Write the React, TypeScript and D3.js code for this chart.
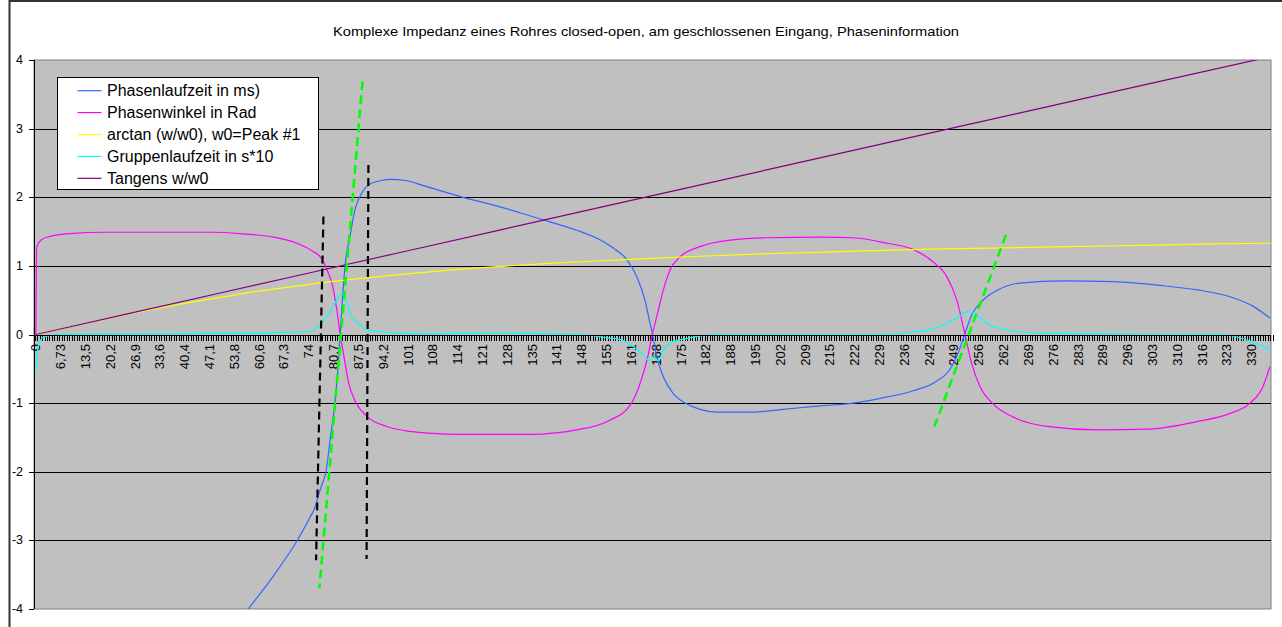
import React from 'react';
import * as d3 from 'd3';

const W = 1282;
const H = 627;

const chartTitle =
  'Komplexe Impedanz eines Rohres closed-open, am geschlossenen Eingang, Phaseninformation';

const xTickLabels = [
  '0', '6,73', '13,5', '20,2', '26,9', '33,6', '40,4', '47,1', '53,8', '60,6',
  '67,3', '74', '80,7', '87,5', '94,2', '101', '108', '114', '121', '128',
  '135', '141', '148', '155', '161', '168', '175', '182', '188', '195',
  '202', '209', '215', '222', '229', '236', '242', '249', '256', '262',
  '269', '276', '283', '289', '296', '303', '310', '316', '323', '330',
];
const labelStep = 6.73;
const categoryStep = 0.673;
const categoryCount = 499;
const yTicks = [-4, -3, -2, -1, 0, 1, 2, 3, 4];

// [frequency, value]
const phasenlaufzeit: [number, number][] = [
  [57.6, -4.0], [64.4, -3.52], [70.8, -3.01], [74.4, -2.66], [75.7, -2.52], [76.6, -2.35],
  [77.5, -2.2], [78.7, -2.0], [79.8, -1.54], [81.1, -1.0], [81.9, -0.52], [82.5, -0.03],
  [83.9, 1.02], [85.2, 1.43], [86.6, 1.83], [87.9, 2.01], [90.2, 2.18], [93.4, 2.24],
  [96.1, 2.26], [100.6, 2.24], [105.1, 2.17], [115.1, 2.01], [125.9, 1.86], [137.6, 1.67],
  [146.7, 1.52], [153.0, 1.38], [156.6, 1.26], [160.3, 1.09], [163.0, 0.84], [165.2, 0.5],
  [166.6, 0.16], [167.3, 0.0], [168.4, -0.32], [170.2, -0.62], [172.9, -0.86], [176.5, -1.01],
  [180.1, -1.09], [184.7, -1.13], [194.6, -1.13], [202.7, -1.09], [212.7, -1.04], [221.7, -1.0],
  [229.0, -0.93], [238.0, -0.82], [244.3, -0.68], [247.9, -0.51], [250.5, -0.22], [251.9, 0.0],
  [253.8, 0.28], [256.5, 0.48], [260.6, 0.64], [266.9, 0.75], [278.7, 0.78], [292.2, 0.77],
  [305.8, 0.71], [314.9, 0.65], [323.9, 0.55], [330.2, 0.41], [334.7, 0.24],
];

const phasenwinkel: [number, number][] = [
  [0, 0], [0.24, 1.28], [1.5, 1.38], [3.85, 1.43], [10.1, 1.475], [18.2, 1.49], [48.1, 1.49],
  [56.2, 1.465], [64.4, 1.42], [70.8, 1.33], [74.9, 1.22], [77.6, 1.1], [79.3, 0.9],
  [80.6, 0.68], [81.2, 0.5], [81.8, 0.3], [82.5, 0.02], [83.5, -0.3], [84.9, -0.72],
  [86.6, -0.97], [89.7, -1.19], [95.2, -1.34], [100, -1.4], [107.7, -1.44], [115, -1.455],
  [134, -1.455], [146.7, -1.39], [155.7, -1.25], [161.2, -1.03], [163.9, -0.71], [166.0, -0.32],
  [167.2, 0.0], [168.4, 0.26], [170.2, 0.65], [172.0, 0.94], [174.7, 1.13], [180.1, 1.28],
  [189.1, 1.38], [198.3, 1.41], [212.7, 1.42], [221.6, 1.41], [230.9, 1.33], [237.9, 1.24],
  [243.3, 1.06], [247.1, 0.84], [249.8, 0.5], [252.0, 0.0], [253.8, -0.42], [256.1, -0.76],
  [259.6, -1.01], [265.0, -1.2], [274.3, -1.34], [287.8, -1.39], [301.4, -1.38], [314.9, -1.27],
  [323.9, -1.15], [329.3, -1.0], [332.8, -0.76], [334.7, -0.47],
];

const arctanW: [number, number][] = [
  [0, 0], [10, 0.12], [20, 0.24], [30, 0.35], [40, 0.45], [50, 0.54], [60, 0.63], [70, 0.70],
  [82.6, 0.785], [100, 0.88], [120, 0.97], [140, 1.04], [160, 1.09], [180, 1.14], [200, 1.18],
  [220, 1.21], [240, 1.24], [260, 1.26], [280, 1.28], [300, 1.30], [320, 1.32], [335, 1.33],
];

const gruppenlaufzeit: [number, number][] = [
  [0, -0.52], [0.7, -0.16], [2, -0.04], [5.9, 0.0], [33, 0.01], [67, 0.03], [73.5, 0.04],
  [76.2, 0.1], [77.5, 0.16], [78.0, 0.21], [79.8, 0.33], [81.6, 0.5], [82.9, 0.6], [83.9, 0.55],
  [85.2, 0.31], [87.5, 0.16], [89.7, 0.07], [93.4, 0.04], [97.9, 0.02], [107, 0.01], [121, 0.02],
  [148, 0.0], [153.9, -0.04], [158.4, -0.07], [162.1, -0.18], [164.8, -0.3], [166.4, -0.38],
  [167.5, -0.31], [168.8, -0.39], [170.2, -0.23], [172.9, -0.1], [176.5, -0.06], [180.1, -0.02],
  [185.6, 0.0], [230.8, 0.0], [238.0, 0.04], [243.4, 0.09], [247.0, 0.16], [249.8, 0.24],
  [251.6, 0.31], [252.5, 0.33], [254.3, 0.31], [256.9, 0.21], [259.7, 0.11], [263.3, 0.07],
  [266.9, 0.04], [274.2, 0.02], [292.2, 0.01], [322.0, 0.0], [328.4, -0.08], [332.0, -0.15],
  [334.7, -0.23],
];

const tangens: [number, number][] = [
  [0, 0], [50, 0.605], [100, 1.21], [150, 1.815], [200, 2.42], [250, 3.025], [300, 3.63], [335, 4.05],
];

const seriesNames = [
  'Phasenlaufzeit in ms)',
  'Phasenwinkel in Rad',
  'arctan (w/w0), w0=Peak #1',
  'Gruppenlaufzeit in s*10',
  'Tangens w/w0',
];
const seriesColors = ['#3366FF', '#FF00FF', '#FFFF00', '#00FFFF', '#800080'];
const seriesData = [phasenlaufzeit, phasenwinkel, arctanW, gruppenlaufzeit, tangens];

// drawn annotation lines: [f1, v1, f2, v2]
const blackDashes: [number, number, number, number][] = [
  [78.0, 1.72, 76.0, -3.29],
  [90.2, 2.47, 89.7, -3.27],
];
const greenDashes: [number, number, number, number][] = [
  [88.6, 3.69, 76.9, -3.7],
  [263.1, 1.45, 243.7, -1.34],
];

export default function App() {
  const left = 34;
  const right = 1271;
  const top = 60;
  const bottom = 609;
  const x = d3.scaleLinear().domain([-0.5, 335]).range([left, right]);
  const y = d3.scaleLinear().domain([-4, 4]).range([bottom, top]);
  const line = d3
    .line<[number, number]>()
    .x((d) => x(d[0]))
    .y((d) => y(d[1]))
    .curve(d3.curveMonotoneX);

  const categoryTicks = d3.range(categoryCount + 1).map((k) => k * categoryStep - categoryStep / 2);
  const font = 'Liberation Sans, Arial, sans-serif';

  return (
    <svg
      width={W}
      height={H}
      style={{ position: 'absolute', left: 0, top: 0, background: '#fff' }}
      fontFamily={font}
    >
      <defs>
        <clipPath id="plotClip">
          <rect x={left} y={top} width={right - left} height={bottom - top} />
        </clipPath>
      </defs>
      {/* chart frame */}
      <line x1={9.5} y1={1} x2={W} y2={1} stroke="#333" strokeWidth={2} />
      <line x1={9.5} y1={0} x2={9.5} y2={H} stroke="#333" strokeWidth={2} />

      <text x={646} y={36} textAnchor="middle" fontSize={13.5} textLength={626} lengthAdjust="spacingAndGlyphs">
        {chartTitle}
      </text>

      {/* plot area */}
      <rect x={left} y={top} width={right - left} height={bottom - top} fill="#C0C0C0" stroke="#808080" strokeWidth={1} />
      {yTicks
        .filter((v) => v !== -4 && v !== 4)
        .map((v) => (
          <line key={'g' + v} x1={left} x2={right} y1={Math.round(y(v)) + 0.5} y2={Math.round(y(v)) + 0.5} stroke="#000" strokeWidth={1} />
        ))}
      {/* y axis */}
      <line x1={left + 0.5} x2={left + 0.5} y1={top} y2={bottom} stroke="#000" strokeWidth={1} />
      {yTicks.map((v) => (
        <g key={'yt' + v}>
          <line x1={left - 5} x2={left} y1={Math.round(y(v)) + 0.5} y2={Math.round(y(v)) + 0.5} stroke="#000" />
          <text x={left - 11} y={y(v)} textAnchor="end" dominantBaseline="central" fontSize={12.5}>
            {v}
          </text>
        </g>
      ))}
      {/* x axis category ticks */}
      {categoryTicks.map((f, i) => (
        <line key={'ct' + i} x1={Math.round(x(f)) + 0.5} x2={Math.round(x(f)) + 0.5} y1={Math.round(y(0))} y2={Math.round(y(0)) + 6} stroke="#000" strokeWidth={1} />
      ))}
      {xTickLabels.map((lab, i) => {
        const px = x(i * labelStep);
        return (
          <text key={'xl' + i} transform={`translate(${px},${344}) rotate(-90)`} textAnchor="end" dominantBaseline="central" fontSize={13}>
            {lab}
          </text>
        );
      })}

      {/* series */}
      <g clipPath="url(#plotClip)">
        {seriesData.map((d, i) => (
          <path key={'s' + i} d={line(d) || ''} fill="none" stroke={seriesColors[i]} strokeWidth={1.2} />
        ))}
      </g>
      {/* x axis line */}
      <line x1={left} x2={right} y1={Math.round(y(0)) + 0.5} y2={Math.round(y(0)) + 0.5} stroke="#000" strokeWidth={1} />

      {/* annotation lines */}
      {blackDashes.map((a, i) => (
        <line key={'bd' + i} x1={x(a[0])} y1={y(a[1])} x2={x(a[2])} y2={y(a[3])} stroke="#000" strokeWidth={2.2} strokeDasharray="8 5" />
      ))}
      {greenDashes.map((a, i) => (
        <line key={'gd' + i} x1={x(a[0])} y1={y(a[1])} x2={x(a[2])} y2={y(a[3])} stroke="#00FF00" strokeWidth={2.5} strokeDasharray="9 5" />
      ))}

      {/* legend */}
      <rect x={57.5} y={77.5} width={261} height={112} fill="#fff" stroke="#000" strokeWidth={1} />
      {seriesNames.map((n, i) => {
        const ly = 90.7 + i * 21.9;
        return (
          <g key={'lg' + i}>
            <line x1={77.5} x2={101.5} y1={ly} y2={ly} stroke={seriesColors[i]} strokeWidth={1.2} />
            <text x={107} y={ly} dominantBaseline="central" fontSize={16}>
              {n}
            </text>
          </g>
        );
      })}
    </svg>
  );
}
